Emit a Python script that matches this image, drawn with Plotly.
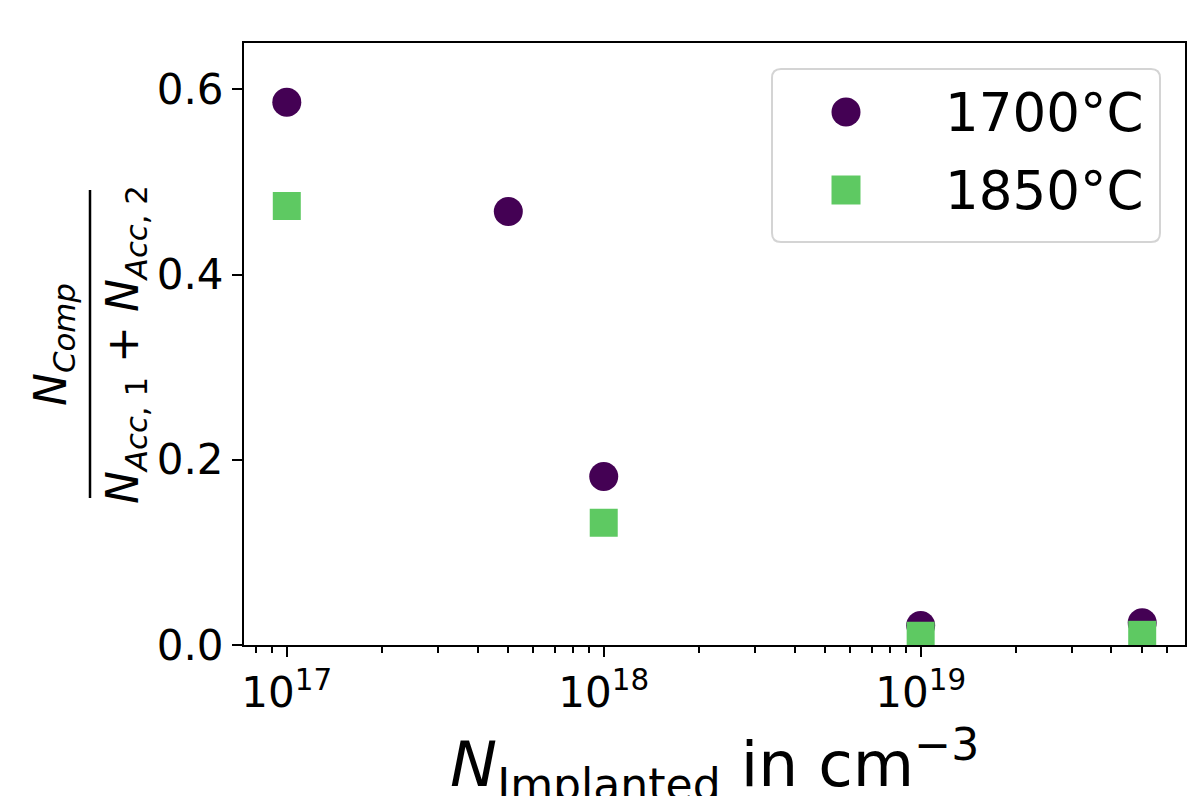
import plotly.graph_objects as go

# ---- data ----
x_1700 = [1e17, 5e17, 1e18, 1e19, 5e19]
y_1700 = [0.586, 0.468, 0.182, 0.021, 0.024]
x_1850 = [1e17, 1e18, 1e19, 5e19]
y_1850 = [0.474, 0.132, 0.010, 0.011]
series_names = ["1700°C", "1850°C"]
series_colors = ["#440154", "#5ec962"]
series_symbols = ["circle", "square"]

x_tickvals = [1e17, 1e18, 1e19]
x_ticktext = ["10<sup>17</sup>", "10<sup>18</sup>", "10<sup>19</sup>"]
x_minor = [8e16, 9e16] + [k * 1e17 for k in range(2, 10)] + [k * 1e18 for k in range(2, 10)] + [2e19, 3e19, 4e19, 5e19, 6e19]
y_tickvals = [0.0, 0.2, 0.4, 0.6]

FONT = "DejaVu Sans"
W, H = 1197, 796
OFF = 8  # page body margin offset
# plot-area edges in page pixels
L, R, T, B = 244, 1185, 43, 645
PW, PH = R - L, B - T


def px(x):
    return (x - L) / PW


def py(y):
    return (B - y) / PH


fig = go.Figure()
fig.add_trace(go.Scatter(x=x_1700, y=y_1700, mode="markers", name=series_names[0],
                         marker=dict(symbol=series_symbols[0], size=29, color=series_colors[0], line=dict(width=0)),
                         showlegend=False))
fig.add_trace(go.Scatter(x=x_1850, y=y_1850, mode="markers", name=series_names[1],
                         marker=dict(symbol=series_symbols[1], size=28, color=series_colors[1], line=dict(width=0)),
                         showlegend=False))

fig.update_layout(
    width=W, height=H,
    margin=dict(l=L - OFF, r=W - (R - OFF), t=T - OFF, b=H - (B - OFF)),
    paper_bgcolor="white", plot_bgcolor="white",
    font=dict(family=FONT, color="black", size=42),
    showlegend=False,
)
fig.update_xaxes(
    type="log", range=[16.865, 19.834],
    tickvals=x_tickvals, ticktext=x_ticktext,
    ticks="outside", ticklen=10, tickwidth=2, tickcolor="black",
    showline=True, linecolor="black", linewidth=2, mirror=True,
    showgrid=False, zeroline=False,
    tickfont=dict(size=42, family=FONT),
    minor=dict(tickvals=x_minor, ticks="outside", ticklen=6, tickwidth=1.5, tickcolor="black", showgrid=False),
)
fig.update_yaxes(
    range=[0, 0.65], tickvals=y_tickvals, tickformat=".1f",
    ticks="outside", ticklen=10, tickwidth=2, tickcolor="black",
    showline=True, linecolor="black", linewidth=2, mirror=True,
    showgrid=False, zeroline=False,
    tickfont=dict(size=42, family=FONT),
)

# x-axis title
fig.add_annotation(xref="paper", yref="paper", x=px((L + R) / 2), y=py(764),
                   xanchor="center", yanchor="middle", showarrow=False,
                   text="<i>N</i><sub>Implanted</sub> in cm<sup>\u22123</sup>",
                   font=dict(size=63, family=FONT))

# y-axis title as fraction
fig.add_annotation(xref="paper", yref="paper", x=px(53), y=py(345),
                   xanchor="center", yanchor="middle", showarrow=False, textangle=-90,
                   text="<i>N</i><sub><i>Comp</i></sub>",
                   font=dict(size=44, family=FONT))
fig.add_annotation(xref="paper", yref="paper", x=px(125), y=py(344),
                   xanchor="center", yanchor="middle", showarrow=False, textangle=-90,
                   text="<i>N</i><sub><i>Acc</i>, 1</sub> + <i>N</i><sub><i>Acc</i>, 2</sub>",
                   font=dict(size=44, family=FONT))
fig.add_shape(type="line", xref="paper", yref="paper",
              x0=px(90), x1=px(90), y0=py(190), y1=py(498),
              line=dict(color="black", width=2.5))

# legend box (rounded)
bx0, bx1, by0, by1, rr = 772, 1160, 69, 242, 9


def pp(x, y):
    return f"{px(x):.5f},{py(y):.5f}"


path = (f"M {pp(bx0 + rr, by0)} L {pp(bx1 - rr, by0)} Q {pp(bx1, by0)} {pp(bx1, by0 + rr)} "
        f"L {pp(bx1, by1 - rr)} Q {pp(bx1, by1)} {pp(bx1 - rr, by1)} "
        f"L {pp(bx0 + rr, by1)} Q {pp(bx0, by1)} {pp(bx0, by1 - rr)} "
        f"L {pp(bx0, by0 + rr)} Q {pp(bx0, by0)} {pp(bx0 + rr, by0)} Z")
fig.add_shape(type="path", xref="paper", yref="paper", path=path,
              fillcolor="rgba(255,255,255,0.8)", line=dict(color="#d4d4d4", width=2))

leg_y = [112, 190]
for i, name in enumerate(series_names):
    cy = leg_y[i]
    kind = "circle" if series_symbols[i] == "circle" else "rect"
    fig.add_shape(type=kind, xref="paper", yref="paper",
                  x0=px(846 - 14.5), x1=px(846 + 14.5), y0=py(cy + 14.5), y1=py(cy - 14.5),
                  fillcolor=series_colors[i], line=dict(width=0))
    fig.add_annotation(xref="paper", yref="paper", x=px(943), y=py(cy),
                       xanchor="left", yanchor="middle", showarrow=False,
                       text=name, font=dict(size=53, family=FONT))

fig.write_html("out.html")
